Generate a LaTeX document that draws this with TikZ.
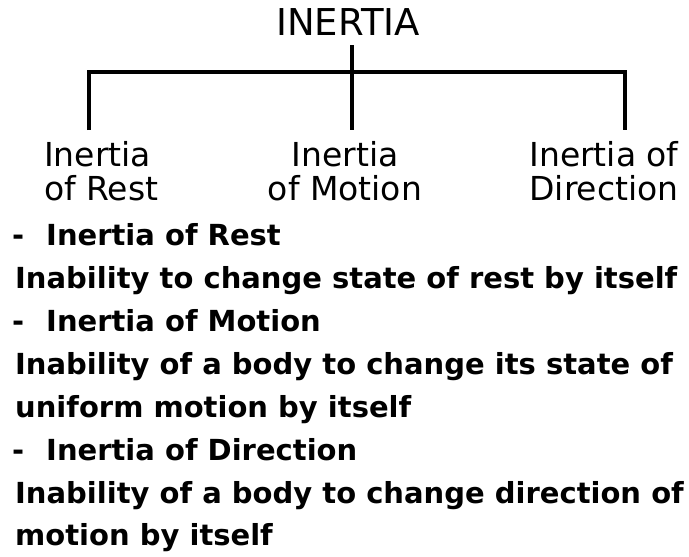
\documentclass[tikz,border=0pt]{standalone}
\usepackage{fontspec}
\setmainfont{DejaVu Sans}
\usetikzlibrary{positioning}
\definecolor{inkcolor}{RGB}{0,0,0}
\newcommand{\notedash}{-\hspace{22pt}}
\tikzset{
titletext/.style={
  font=\fontsize{37}{37}\selectfont,
  text=inkcolor,
  inner sep=0pt,
  anchor=base
},
branchtext/.style={
  font=\fontsize{33}{34}\selectfont,
  text=inkcolor,
  inner sep=0pt,
  anchor=north
},
notetext/.style={
  font=\bfseries\fontsize{29}{29}\selectfont,
  text=inkcolor,
  inner sep=0pt,
  anchor=base west
},
branch/.style={
  draw=inkcolor,
  line width=4.5pt
}
}
\begin{document}
\begin{tikzpicture}[x=1pt,y=-1pt]
  \useasboundingbox[fill=white] (0,0) rectangle (689,557);

  % Tree
  \node[titletext] (title) at (348,35) {INERTIA};
  \node[branchtext, anchor=north west, align=left] (rest) at (44,141)
    {Inertia\\of Rest};
  \node[branchtext, align=center] (motion) at (345,141)
    {Inertia\\of Motion};
  \node[branchtext, align=center] (direction) at (604,141)
    {Inertia of\\Direction};

  \coordinate (hub) at (352,72);
  \coordinate (restend) at (89,130);
  \coordinate (motionend) at (352,130);
  \coordinate (directionend) at (625,130);
  \draw[branch, shorten <=10pt] (title.south -| hub) -- (motionend);
  \draw[branch] (restend) |- (hub) -| (directionend);

  % Notes below
  \node[notetext] (n1) at (12,245) {\notedash Inertia of Rest};
  \node[notetext] (n2) at (15,288) {Inability to change state of rest by itself};
  \node[notetext] (n3) at (12,331) {\notedash Inertia of Motion};
  \node[notetext] (n4) at (15,374) {Inability of a body to change its state of};
  \node[notetext] (n5) at (15,417) {uniform motion by itself};
  \node[notetext] (n6) at (12,460) {\notedash Inertia of Direction};
  \node[notetext] (n7) at (15,503) {Inability of a body to change direction of};
  \node[notetext] (n8) at (15,545) {motion by itself};
\end{tikzpicture}
\end{document}
